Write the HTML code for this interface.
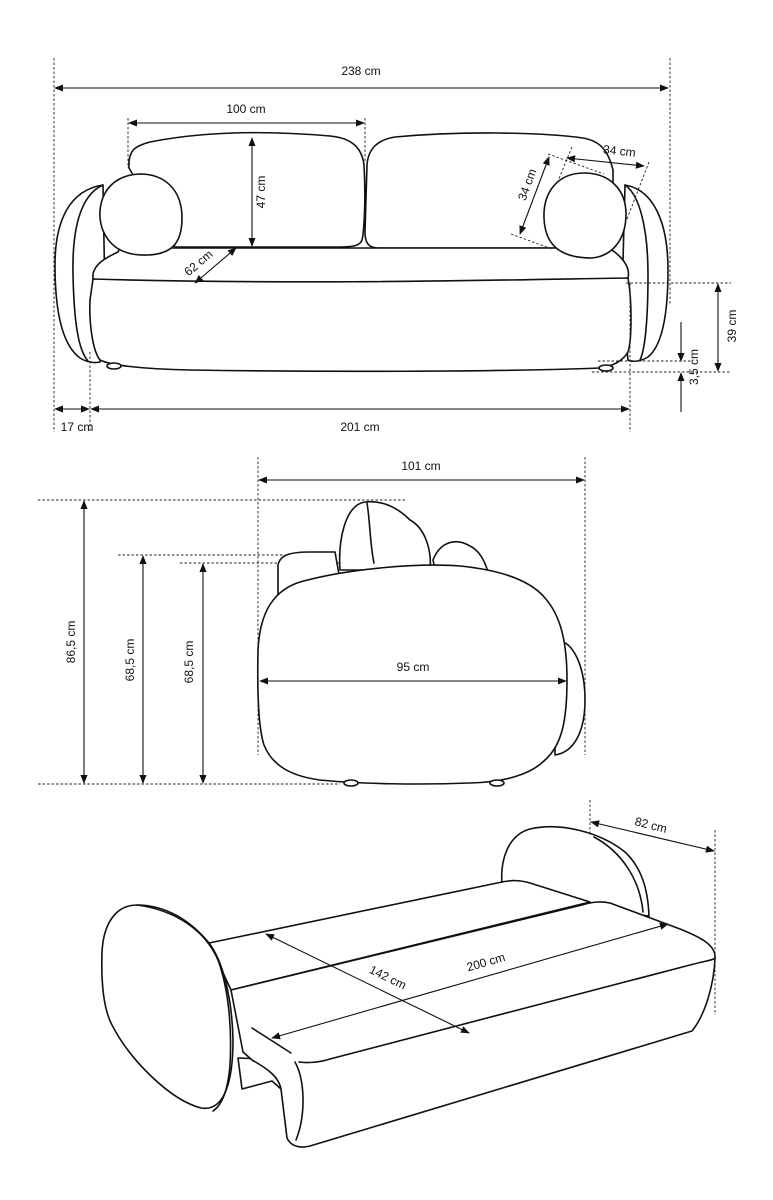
<!DOCTYPE html>
<html><head><meta charset="utf-8"><style>
html,body{margin:0;padding:0;background:#fff}
svg{display:block}
text{font-family:"Liberation Sans",sans-serif;font-size:12px;fill:#111}
.o{fill:#fff;stroke:#111;stroke-width:1.6;stroke-linejoin:round;stroke-linecap:round}
.n{fill:none;stroke:#111;stroke-width:1.6;stroke-linecap:round}
.d{fill:none;stroke:#222;stroke-width:0.9;stroke-dasharray:2.5 2}
.a{fill:none;stroke:#111;stroke-width:1.1;marker-start:url(#ah);marker-end:url(#ah)}
.a1{fill:none;stroke:#111;stroke-width:1.1;marker-end:url(#ah)}
</style></head><body>
<svg width="773" height="1200" viewBox="0 0 773 1200" xmlns="http://www.w3.org/2000/svg">
<defs><marker id="ah" viewBox="0 0 10 10" refX="9" refY="5" markerWidth="9" markerHeight="9" orient="auto-start-reverse" markerUnits="userSpaceOnUse"><path d="M0,1 L10,5 L0,9 z" fill="#111"/></marker></defs>

<!-- ===== FRONT VIEW ===== -->
<line class="d" x1="54" y1="58" x2="54" y2="432"/>
<line class="d" x1="670" y1="58" x2="670" y2="304"/>
<line class="a" x1="55" y1="88" x2="668" y2="88"/>
<text x="361" y="75" text-anchor="middle">238 cm</text>
<line class="d" x1="128" y1="118" x2="128" y2="168"/>
<line class="d" x1="365" y1="118" x2="365" y2="162"/>
<line class="a" x1="129" y1="123" x2="364" y2="123"/>
<text x="246" y="113" text-anchor="middle">100 cm</text>

<path class="o" d="M129,168 C128,150 135,146 150,142 C200,132 260,130 330,136 C352,138 362,148 364,165 C366,200 364,232 362,240 C360,246 352,247 340,247 L175,247 Z"/>
<path class="o" d="M367,165 C368,150 376,140 395,137 C460,131 540,132 583,138 C600,141 608,150 613,170 L613,200 L600,248 L378,248 C368,248 365,242 365,232 Z"/>
<path class="o" d="M103,185 C70,190 55,220 55,265 C55,310 62,345 80,358 C88,363 96,363 100,362 L105,300 Z"/>
<path class="n" d="M103,185 C80,195 72,230 73,275 C74,320 78,350 88,361"/>
<path class="o" d="M625,185 C655,190 668,225 668,270 C668,310 663,345 648,357 C640,362 632,362 628,360 L622,300 Z"/>
<path class="n" d="M625,185 C640,195 648,230 648,275 C648,320 645,350 640,360"/>
<path class="o" d="M118,252 C105,258 95,264 93,274 L93,280 C140,284 240,285 400,283 C520,281 600,281 628,278 C630,270 626,260 612,250 L600,248 L120,248 Z"/>
<path class="o" d="M93,279 C300,285 500,280 628,278 C632,300 632,340 628,352 C622,362 612,366 600,368 C500,372 320,372 190,370 C140,369 110,365 100,360 C92,350 89,320 90,300 Z"/>
<ellipse class="o" cx="114" cy="366" rx="7" ry="3"/>
<ellipse class="o" cx="606" cy="368" rx="7" ry="3"/>
<path class="o" d="M140,174 C165,174 182,190 182,218 C182,245 170,254 148,255 C120,256 108,244 102,228 C95,205 105,175 140,174 Z"/>
<path class="o" d="M584,173 C610,173 626,190 626,214 C626,240 612,256 592,258 C560,258 545,245 544,218 C543,192 558,173 584,173 Z"/>

<line class="a" x1="252" y1="138" x2="252" y2="246"/>
<text transform="translate(265,192) rotate(-90)" text-anchor="middle">47 cm</text>
<line class="a" x1="236" y1="248" x2="195" y2="283"/>
<text transform="translate(201,266) rotate(-40)" text-anchor="middle">62 cm</text>

<line class="d" x1="548" y1="154" x2="604" y2="174"/>
<line class="d" x1="511" y1="234" x2="552" y2="249"/>
<line class="d" x1="572" y1="147" x2="558" y2="181"/>
<line class="d" x1="649" y1="162" x2="627" y2="219"/>
<line class="a" x1="549" y1="157" x2="520" y2="234"/>
<text transform="translate(531,186) rotate(-70)" text-anchor="middle">34 cm</text>
<line class="a" x1="567" y1="158" x2="644" y2="166"/>
<text transform="translate(619,155) rotate(6)" text-anchor="middle">34 cm</text>

<line class="d" x1="626" y1="283" x2="731" y2="283"/>
<line class="d" x1="592" y1="372" x2="731" y2="372"/>
<line class="d" x1="598" y1="361" x2="692" y2="361"/>
<line class="a" x1="718" y1="284" x2="718" y2="371"/>
<text transform="translate(736,326) rotate(-90)" text-anchor="middle">39 cm</text>
<line class="a1" x1="681" y1="322" x2="681" y2="361"/>
<line class="a1" x1="681" y1="412" x2="681" y2="373"/>
<text transform="translate(698,367) rotate(-90)" text-anchor="middle">3,5 cm</text>

<line class="d" x1="90" y1="352" x2="90" y2="432"/>
<line class="d" x1="630" y1="283" x2="630" y2="432"/>
<line class="a" x1="55" y1="409" x2="89" y2="409"/>
<line class="a" x1="91" y1="409" x2="629" y2="409"/>
<text x="77" y="431" text-anchor="middle">17 cm</text>
<text x="360" y="431" text-anchor="middle">201 cm</text>

<!-- ===== SIDE VIEW ===== -->
<line class="d" x1="258" y1="457" x2="258" y2="755"/>
<line class="d" x1="585" y1="457" x2="585" y2="755"/>
<line class="a" x1="259" y1="480" x2="584" y2="480"/>
<text x="421" y="470" text-anchor="middle">101 cm</text>
<line class="d" x1="38" y1="500" x2="405" y2="500"/>
<line class="d" x1="118" y1="555" x2="345" y2="555"/>
<line class="d" x1="180" y1="563" x2="385" y2="563"/>
<line class="d" x1="38" y1="784" x2="340" y2="784"/>
<line class="a" x1="84" y1="501" x2="84" y2="783"/>
<text transform="translate(75,642) rotate(-90)" text-anchor="middle">86,5 cm</text>
<line class="a" x1="143" y1="556" x2="143" y2="783"/>
<text transform="translate(134,660) rotate(-90)" text-anchor="middle">68,5 cm</text>
<line class="a" x1="203" y1="564" x2="203" y2="783"/>
<text transform="translate(193,662) rotate(-90)" text-anchor="middle">68,5 cm</text>

<path class="o" d="M555,640 C575,640 585,670 585,700 C585,730 575,752 555,755 Z"/>
<path class="o" d="M278,600 L278,565 C280,555 290,552 310,552 L335,552 L340,580 Z"/>
<path class="o" d="M433,560 C440,542 455,538 468,545 C480,550 485,562 488,572 L500,580 L520,585 L440,590 Z"/>
<path class="o" d="M340,570 C338,540 345,505 365,502 C385,500 400,510 410,520 C425,528 432,550 430,570 Z"/>
<path class="n" d="M367,503 C370,520 370,545 374,563"/>
<path class="o" d="M258,650 C260,610 275,590 300,582 C350,568 420,563 460,566 C500,570 530,580 545,598 C560,615 567,640 567,680 C567,720 562,745 545,760 C530,775 505,782 470,783 C420,785 360,784 320,780 C290,776 272,765 264,745 C259,730 257,700 258,650 Z"/>
<ellipse class="o" cx="351" cy="783" rx="7" ry="3"/>
<ellipse class="o" cx="497" cy="783" rx="7" ry="3"/>
<line class="a" x1="260" y1="681" x2="566" y2="681"/>
<text x="413" y="671" text-anchor="middle">95 cm</text>

<!-- ===== BED VIEW ===== -->
<line class="d" x1="590" y1="800" x2="590" y2="905"/>
<line class="d" x1="715" y1="830" x2="715" y2="1015"/>
<line class="a" x1="591" y1="822" x2="714" y2="851"/>
<text transform="translate(650,829) rotate(14)" text-anchor="middle">82 cm</text>

<!-- back arm -->
<path class="o" d="M502,884 C500,860 508,835 530,829 C560,822 600,832 625,852 C642,868 648,890 649,916 L560,905 Z"/>
<path class="n" d="M594,837 C622,852 640,880 643,912"/>
<!-- back seat -->
<path class="o" d="M209,943 L502,882 C512,880 520,880 530,883 L590,902 L231,990 Z"/>
<!-- base block -->
<path class="o" d="M238,1058 L242,1089 L272,1081 L281,1089 L285,1060 Z"/>
<!-- front mattress -->
<path class="o" d="M231,990 L582,905 C592,902 600,901 610,903 L680,929 C700,937 716,945 715,958 C714,985 705,1015 692,1031 L310,1146 C298,1149 290,1145 287,1138 L281,1089 C279,1078 270,1070 252,1060 L243,1052 Z"/>
<path class="n" d="M299,1062 C305,1063 318,1063 330,1059 L690,965 C705,961 714,960 715,958"/>
<path class="n" d="M295,1062 C305,1080 306,1115 296,1140"/>
<line class="n" x1="252" y1="1028" x2="291" y2="1053"/>
<!-- left arm -->
<path class="o" d="M137,905 C115,905 103,925 102,953 C101,985 104,1010 112,1025 C130,1060 170,1100 201,1108 C225,1112 233,1080 233,1040 C232,995 222,960 209,943 C190,920 165,905 137,905 Z"/>
<path class="n" d="M137,905 C175,910 205,930 218,960 C229,990 232,1030 230,1065 C228,1090 222,1105 213,1111"/>

<line class="a" x1="266" y1="934" x2="469" y2="1033"/>
<text transform="translate(386,981) rotate(26)" text-anchor="middle">142 cm</text>
<line class="a" x1="272" y1="1038" x2="668" y2="924"/>
<text transform="translate(487,966) rotate(-16)" text-anchor="middle">200 cm</text>
</svg>
</body></html>
